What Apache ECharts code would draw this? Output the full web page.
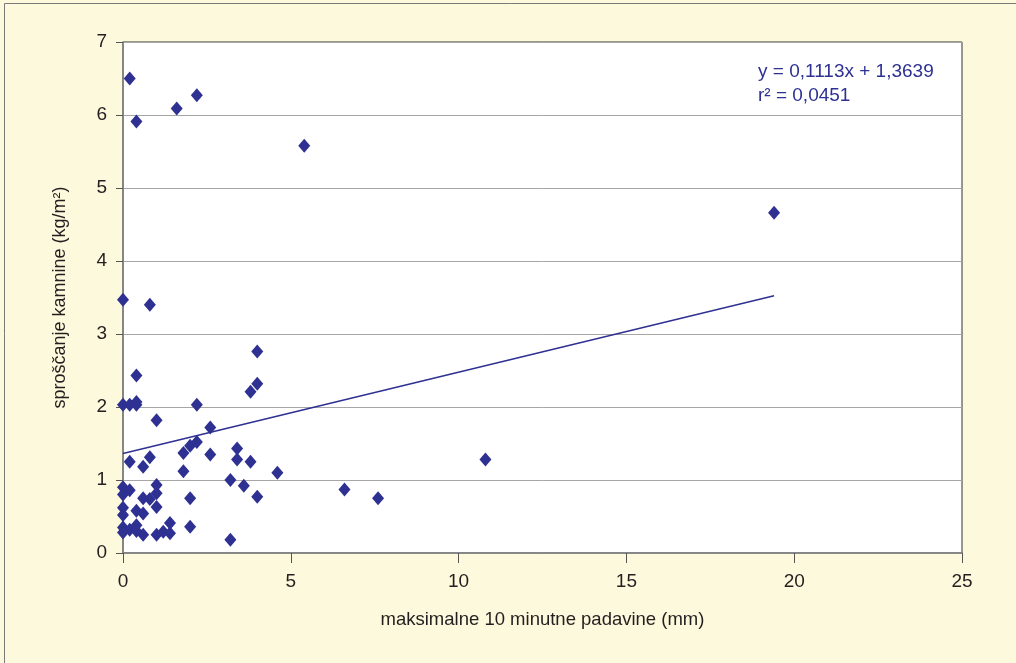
<!DOCTYPE html>
<html>
<head>
<meta charset="utf-8">
<script src="https://cdn.jsdelivr.net/npm/echarts@6/dist/echarts.min.js"></script>
<style>
  html, body { margin: 0; padding: 0; background: #fdf9dc; }
  #main { width: 1016px; height: 663px; }
</style>
</head>
<body>
<div id="main"></div>
<script>
// padavine (mm) in sproščanje kamnine (kg/m2)
var xVals = [
  0, 0, 0, 0, 0, 0, 0, 0,
  0.2, 0.2, 0.2, 0.2, 0.2,
  0.4, 0.4, 0.4, 0.4, 0.4, 0.4, 0.4,
  0.6, 0.6, 0.6, 0.6,
  0.8, 0.8, 0.8,
  1.0, 1.0, 1.0, 1.0, 1.0,
  1.2, 1.4, 1.4, 1.6,
  1.8, 1.8, 2.0, 2.0, 2.0,
  2.2, 2.2, 2.2, 2.6, 2.6,
  3.2, 3.2, 3.4, 3.4, 3.6,
  3.8, 3.8, 4.0, 4.0, 4.0,
  4.6, 5.4, 6.6, 7.6, 10.8, 19.4
];
var yVals = [
  3.47, 2.03, 0.90, 0.80, 0.62, 0.52, 0.35, 0.28,
  6.50, 2.03, 1.25, 0.86, 0.32,
  5.91, 2.43, 2.07, 2.03, 0.58, 0.38, 0.30,
  1.18, 0.75, 0.54, 0.25,
  3.40, 1.31, 0.74,
  1.82, 0.93, 0.82, 0.63, 0.25,
  0.29, 0.41, 0.27, 6.09,
  1.37, 1.12, 1.47, 0.75, 0.36,
  6.27, 2.03, 1.52, 1.72, 1.35,
  1.00, 0.18, 1.43, 1.28, 0.92,
  2.21, 1.25, 2.76, 2.32, 0.77,
  1.10, 5.58, 0.87, 0.75, 1.28, 4.66
];
// linearni trend
var trendSlope = 0.1113;
var trendIntercept = 1.3639;
var trendRange = [0, 19.4];
var trendLabels = ['y = 0,1113x + 1,3639', 'r² = 0,0451'];

var points = xVals.map(function (x, i) { return [x, yVals[i]]; });
var trend = trendRange.map(function (x) { return [x, trendSlope * x + trendIntercept]; });

var navy = '#2e3192';
var txt = '#231f20';
var font = 'Liberation Sans';

var myChart = echarts.init(document.getElementById('main'));
myChart.setOption({
  backgroundColor: '#fdf9dc',
  animation: false,
  textStyle: { fontFamily: font },
  grid: {
    left: 123, right: 54, top: 42, bottom: 110,
    show: true,
    backgroundColor: '#ffffff',
    borderColor: '#333333',
    borderWidth: 1
  },
  graphic: [
    {
      type: 'rect',
      shape: { x: 4.5, y: 3.5, width: 1030, height: 680 },
      style: { fill: 'none', stroke: '#7a7a7a', lineWidth: 1 }
    },
    {
      type: 'text',
      left: 758, top: 60,
      style: { text: trendLabels.join('\n'), fill: navy, font: '19px ' + font, lineHeight: 24 }
    }
  ],
  xAxis: {
    type: 'value',
    min: 0, max: 25, interval: 5,
    name: 'maksimalne 10 minutne padavine (mm)',
    nameLocation: 'middle',
    nameGap: 57,
    nameTextStyle: { color: txt, fontSize: 18.5, fontFamily: font },
    axisLine: { show: true, onZero: false, lineStyle: { color: '#808080', width: 1.5 } },
    axisTick: { show: true, length: 10, lineStyle: { color: '#555555' } },
    axisLabel: { color: txt, fontSize: 19, margin: 19, fontFamily: font },
    splitLine: { show: false }
  },
  yAxis: {
    type: 'value',
    min: 0, max: 7, interval: 1,
    name: 'sproščanje kamnine (kg/m²)',
    nameLocation: 'middle',
    nameGap: 54,
    nameTextStyle: { color: txt, fontSize: 18, fontFamily: font },
    axisLine: { show: true, onZero: false, lineStyle: { color: '#808080', width: 1.5 } },
    axisTick: { show: true, length: 7, lineStyle: { color: '#555555' } },
    axisLabel: { color: txt, fontSize: 19, margin: 16, fontFamily: font },
    splitLine: { show: true, lineStyle: { color: '#a6a6a6', width: 1 } }
  },
  series: [
    {
      type: 'scatter',
      data: points,
      symbol: 'diamond',
      symbolSize: [12, 14],
      itemStyle: { color: navy, opacity: 1 },
      z: 3
    },
    {
      type: 'line',
      data: trend,
      symbol: 'none',
      lineStyle: { color: navy, width: 1.5 },
      z: 2
    }
  ]
});
</script>
</body>
</html>
